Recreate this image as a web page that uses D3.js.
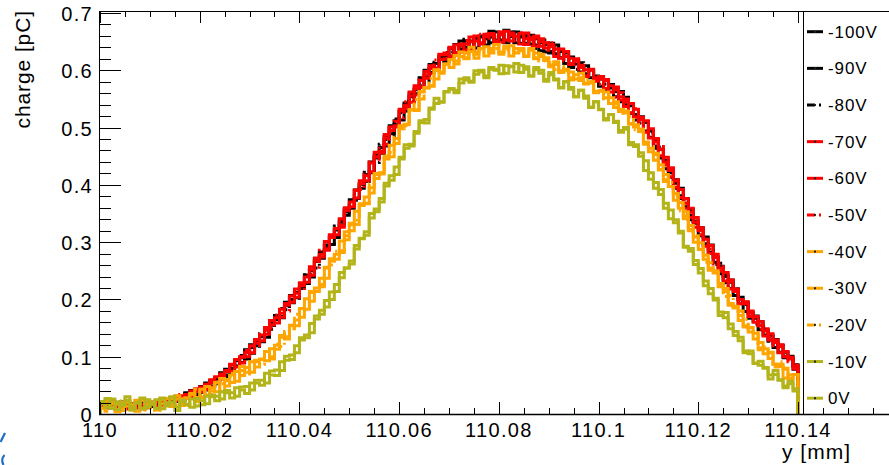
<!DOCTYPE html>
<html>
<head>
<meta charset="utf-8">
<script src="https://cdn.jsdelivr.net/npm/d3@7/dist/d3.min.js"></script>
<style>
  body { margin: 0; background: #fff; }
  svg { display: block; }
  text { font-family: "Liberation Sans", Arial, sans-serif; fill: #000; }
</style>
</head>
<body>
<svg id="chart" width="889" height="465"></svg>
<script>
// histogram binning, y [mm]
const binLow = 110, binWidth = 0.001;

// charge [pC] per bin, one array per bias voltage
const v100 = [.017,.011,.021,.009,.016,.018,.011,.015,.009,.017,.013,.021,.017,.027,.022,.028,.024,.036,.036,.035,
  .048,.045,.056,.053,.072,.068,.080,.093,.090,.112,.106,.127,.135,.134,.159,.165,.170,.195,.194,.212,
  .228,.228,.250,.272,.272,.295,.296,.321,.339,.347,.374,.376,.401,.406,.440,.447,.455,.485,.489,.512,
  .513,.543,.554,.559,.587,.587,.607,.601,.621,.625,.638,.629,.651,.640,.651,.639,.660,.655,.648,.667,
  .653,.670,.663,.648,.658,.662,.646,.655,.634,.645,.647,.629,.633,.612,.623,.611,.597,.608,.587,.590,
  .572,.582,.569,.554,.563,.540,.538,.513,.514,.509,.483,.479,.447,.443,.421,.394,.394,.362,.357,.333,
  .311,.309,.282,.274,.245,.242,.234,.207,.204,.179,.177,.171,.147,.147,.129,.130,.108,.108,.101,.078];
const v90 = [.013,.018,.011,.016,.021,.009,.015,.011,.019,.011,.019,.015,.024,.017,.025,.031,.025,.032,.041,.033,
  .038,.054,.049,.063,.065,.065,.086,.084,.098,.096,.121,.119,.126,.147,.155,.172,.168,.189,.207,.203,
  .219,.242,.239,.266,.283,.287,.310,.308,.335,.358,.359,.391,.394,.418,.421,.452,.465,.468,.503,.505,
  .528,.529,.560,.566,.571,.600,.596,.612,.625,.615,.625,.645,.637,.651,.634,.653,.658,.644,.668,.653,
  .666,.651,.659,.667,.647,.658,.661,.644,.648,.632,.630,.644,.622,.624,.605,.617,.608,.590,.601,.582,
  .585,.563,.575,.563,.545,.553,.525,.523,.519,.494,.494,.468,.462,.428,.428,.403,.376,.376,.347,.337,
  .323,.294,.295,.265,.258,.229,.230,.218,.193,.195,.167,.167,.161,.138,.137,.116,.120,.101,.098,.086];
const v80 = [.019,.013,.013,.018,.013,.014,.017,.009,.015,.018,.012,.018,.022,.019,.028,.022,.030,.037,.030,.042,
  .044,.042,.058,.061,.060,.078,.075,.091,.102,.101,.116,.115,.140,.144,.148,.170,.184,.182,.200,.202,
  .226,.243,.244,.255,.284,.292,.298,.328,.330,.353,.368,.373,.404,.422,.425,.439,.471,.479,.485,.515,
  .526,.546,.545,.571,.574,.581,.610,.614,.613,.631,.632,.627,.645,.654,.641,.657,.647,.663,.658,.649,
  .663,.648,.667,.654,.663,.647,.654,.638,.652,.653,.633,.637,.619,.630,.617,.602,.613,.594,.597,.576,
  .587,.576,.560,.569,.547,.549,.523,.526,.508,.510,.491,.464,.466,.435,.413,.409,.381,.373,.339,.336,
  .325,.297,.290,.261,.263,.240,.219,.218,.194,.191,.179,.157,.155,.150,.127,.123,.119,.098,.097,.084];
const v70 = [.016,.018,.014,.019,.012,.014,.018,.011,.017,.013,.021,.014,.020,.025,.021,.030,.029,.028,.040,.040,
  .039,.052,.060,.056,.070,.074,.074,.095,.099,.100,.119,.124,.128,.151,.156,.159,.183,.190,.195,.218,
  .224,.230,.257,.267,.274,.301,.308,.313,.341,.355,.362,.391,.402,.407,.438,.449,.456,.488,.495,.503,
  .532,.539,.544,.573,.582,.586,.608,.603,.628,.627,.624,.644,.643,.635,.658,.651,.646,.663,.661,.647,
  .662,.668,.651,.660,.664,.645,.657,.660,.642,.648,.641,.624,.637,.624,.610,.620,.609,.590,.600,.587,
  .589,.568,.573,.571,.548,.550,.526,.532,.514,.492,.498,.475,.451,.448,.425,.396,.392,.368,.343,.343,
  .320,.293,.294,.273,.250,.247,.218,.218,.200,.196,.170,.170,.154,.136,.140,.125,.118,.100,.099,.079];
const v60 = [.014,.017,.021,.011,.019,.009,.014,.017,.012,.019,.018,.022,.016,.022,.029,.023,.032,.034,.030,.044,
  .047,.043,.055,.065,.061,.076,.087,.082,.100,.107,.107,.130,.138,.139,.163,.168,.169,.193,.206,.204,
  .229,.239,.242,.272,.279,.286,.313,.324,.326,.360,.370,.377,.407,.416,.423,.457,.459,.482,.501,.501,
  .529,.534,.562,.568,.571,.598,.603,.604,.627,.630,.639,.631,.646,.646,.637,.660,.648,.659,.664,.651,
  .667,.653,.665,.659,.646,.665,.653,.642,.655,.639,.645,.637,.621,.633,.612,.616,.605,.589,.602,.581,
  .585,.584,.562,.566,.554,.537,.542,.519,.518,.512,.482,.481,.462,.435,.430,.407,.378,.376,.352,.326,
  .325,.305,.280,.279,.255,.232,.234,.214,.192,.193,.180,.160,.161,.145,.129,.129,.107,.109,.096,.083];
const v50 = [.018,.012,.017,.017,.014,.017,.010,.014,.018,.012,.017,.020,.015,.026,.025,.023,.034,.028,.038,.039,
  .046,.049,.047,.064,.067,.067,.085,.088,.089,.111,.114,.116,.139,.146,.150,.173,.176,.180,.205,.211,
  .216,.243,.252,.256,.286,.288,.309,.326,.329,.356,.363,.390,.392,.419,.440,.442,.469,.471,.502,.511,
  .517,.545,.555,.557,.588,.592,.594,.618,.619,.620,.640,.638,.632,.652,.650,.643,.663,.651,.662,.659,
  .649,.667,.661,.651,.666,.655,.642,.656,.650,.635,.648,.630,.636,.616,.621,.619,.596,.601,.599,.582,
  .575,.582,.571,.553,.561,.545,.527,.533,.508,.505,.490,.466,.467,.440,.414,.409,.387,.359,.359,.335,
  .313,.308,.288,.262,.262,.236,.231,.215,.193,.194,.176,.169,.148,.149,.134,.116,.121,.105,.091,.085];
const v40 = [.010,.018,.018,.004,.020,.014,.007,.023,.010,.018,.021,.009,.018,.027,.015,.026,.015,.028,.034,.029,
  .043,.033,.046,.039,.062,.058,.055,.074,.067,.081,.073,.094,.096,.093,.114,.113,.134,.131,.155,.164,
  .184,.183,.214,.214,.237,.237,.271,.279,.285,.318,.320,.354,.364,.367,.395,.418,.421,.450,.449,.481,
  .503,.506,.531,.531,.562,.569,.573,.601,.595,.611,.605,.626,.624,.620,.640,.628,.638,.625,.638,.645,
  .632,.642,.625,.638,.634,.624,.638,.620,.628,.617,.606,.615,.599,.602,.583,.592,.595,.576,.580,.561,
  .564,.562,.542,.545,.528,.529,.506,.505,.497,.475,.464,.443,.435,.409,.397,.385,.359,.346,.320,.309,
  .287,.277,.255,.247,.225,.214,.193,.188,.172,.154,.151,.131,.125,.105,.108,.087,.083,.080,.062,.069];
const v30 = [.010,.023,.012,.017,.006,.020,.016,.005,.024,.012,.020,.007,.025,.019,.013,.032,.019,.028,.036,.022,
  .029,.048,.040,.054,.039,.060,.068,.057,.083,.073,.091,.082,.095,.109,.096,.120,.137,.135,.154,.154,
  .169,.201,.197,.220,.222,.255,.267,.270,.302,.304,.330,.331,.367,.379,.386,.420,.419,.445,.469,.472,
  .501,.505,.531,.530,.563,.570,.572,.600,.597,.611,.619,.611,.632,.622,.633,.621,.638,.641,.630,.645,
  .628,.639,.643,.630,.638,.625,.635,.622,.624,.622,.609,.610,.596,.599,.597,.585,.587,.578,.578,.563,
  .564,.552,.552,.535,.532,.526,.507,.501,.497,.472,.458,.453,.427,.418,.397,.373,.369,.341,.329,.300,
  .299,.270,.251,.246,.228,.219,.190,.186,.180,.152,.143,.141,.112,.114,.107,.087,.087,.063,.068,.069];
const v20 = [.018,.005,.021,.023,.009,.021,.008,.024,.016,.007,.020,.006,.026,.015,.027,.015,.026,.015,.035,.043,
  .030,.043,.034,.055,.053,.049,.071,.063,.076,.067,.090,.091,.087,.108,.100,.122,.118,.144,.149,.174,
  .181,.181,.212,.214,.226,.256,.260,.284,.282,.311,.333,.338,.364,.368,.402,.411,.421,.451,.457,.483,
  .498,.503,.528,.549,.550,.569,.586,.585,.602,.610,.616,.616,.618,.630,.626,.632,.636,.630,.635,.638,
  .631,.636,.637,.631,.637,.627,.629,.630,.616,.620,.613,.601,.607,.599,.587,.595,.582,.584,.581,.565,
  .565,.547,.555,.541,.525,.526,.519,.496,.493,.471,.467,.455,.426,.406,.404,.381,.355,.353,.322,.311,
  .293,.265,.264,.250,.222,.205,.207,.185,.163,.165,.149,.142,.115,.117,.097,.082,.091,.078,.062,.067];
const v10 = [.022,.012,.026,.008,.018,.030,.011,.020,.009,.025,.016,.010,.028,.014,.021,.006,.024,.017,.012,.027,
  .023,.018,.033,.031,.026,.041,.037,.031,.047,.048,.042,.059,.059,.054,.075,.077,.076,.101,.103,.107,
  .133,.138,.142,.171,.181,.187,.213,.214,.247,.255,.262,.294,.306,.312,.350,.358,.370,.403,.416,.418,
  .448,.470,.468,.493,.512,.508,.534,.551,.545,.563,.567,.561,.585,.583,.579,.599,.597,.587,.605,.600,
  .609,.595,.607,.612,.596,.606,.590,.605,.595,.581,.596,.583,.570,.580,.570,.554,.565,.551,.536,.545,
  .531,.513,.523,.511,.495,.497,.470,.470,.450,.442,.410,.404,.383,.359,.356,.334,.319,.293,.284,.261,
  .246,.232,.210,.202,.178,.168,.157,.137,.128,.110,.105,.089,.085,.081,.068,.069,.059,.049,.053,.044];
const v0 = [.018,.027,.010,.021,.015,.024,.007,.019,.028,.013,.020,.025,.009,.019,.030,.012,.022,.016,.026,.014,
  .016,.031,.030,.023,.039,.037,.028,.046,.042,.036,.054,.054,.050,.071,.068,.067,.091,.094,.095,.119,
  .129,.133,.158,.166,.174,.198,.200,.226,.238,.255,.267,.288,.307,.318,.342,.353,.376,.398,.408,.431,
  .445,.464,.471,.490,.509,.514,.532,.542,.544,.562,.568,.565,.578,.587,.581,.593,.600,.590,.602,.602,
  .594,.608,.606,.597,.609,.602,.590,.601,.600,.584,.592,.585,.569,.580,.567,.554,.565,.555,.535,.545,
  .532,.516,.523,.509,.492,.500,.474,.467,.456,.425,.421,.394,.392,.368,.341,.339,.316,.291,.289,.268,
  .254,.224,.219,.199,.172,.177,.149,.144,.134,.107,.110,.088,.092,.080,.061,.076,.060,.046,.057,.040];

const seriesValues = [v100, v90, v80, v70, v60, v50, v40, v30, v20, v10, v0];
const seriesLabels = ['-100V', '-90V', '-80V', '-70V', '-60V', '-50V', '-40V', '-30V', '-20V', '-10V', '0V'];
const seriesColors = ['#000000', '#000000', '#000000', '#ff0000', '#ff0000', '#ff0000',
  '#ffa500', '#ffa500', '#ffa500', '#b3b31a', '#b3b31a'];
const seriesDash = [null, null, '8,4,2,4', null, null, '8,4,2,4', null, null, '8,4,2,4', null, null];

const xTicks = [110, 110.02, 110.04, 110.06, 110.08, 110.1, 110.12, 110.14];
const yTicks = [0, 0.1, 0.2, 0.3, 0.4, 0.5, 0.6, 0.7];

const svg = d3.select('#chart');
const padL = 100, padR = 889, padT = 11, padB = 414;

const x = d3.scaleLinear().domain([110, 110.14]).range([100, 798]);
const y = d3.scaleLinear().domain([0, 0.7]).range([414, 13]);

svg.append('defs').append('clipPath').attr('id', 'plot')
  .append('rect').attr('x', padL).attr('y', padT).attr('width', 703).attr('height', padB - padT);

// step outline like ROOT's HIST option, dropping to zero at both ends
const step = d3.line().x(d => x(d[0])).y(d => y(d[1])).curve(d3.curveStepAfter);

const g = svg.append('g').attr('clip-path', 'url(#plot)');
seriesValues.forEach((vals, k) => {
  const pts = [[binLow, 0]];
  vals.forEach((v, i) => pts.push([binLow + i * binWidth, v]));
  const end = binLow + vals.length * binWidth;
  pts.push([end, vals[vals.length - 1]]);
  pts.push([end, 0]);
  g.append('path')
    .attr('d', step(pts))
    .attr('fill', 'none')
    .attr('stroke', seriesColors[k])
    .attr('stroke-width', 3)
    .attr('stroke-dasharray', seriesDash[k]);
});

// frame
const axisColor = '#000';
svg.append('line').attr('x1', padL - 0.5).attr('x2', padL - 0.5).attr('y1', padT).attr('y2', padB + 1).attr('stroke', axisColor);
svg.append('line').attr('x1', padL - 1).attr('x2', padR).attr('y1', padB + 0.5).attr('y2', padB + 0.5).attr('stroke', axisColor).attr('stroke-width', 1.5);
svg.append('line').attr('x1', padL - 1).attr('x2', padR).attr('y1', padT + 0.5).attr('y2', padT + 0.5).attr('stroke', axisColor);

// x ticks, bottom and top
const xMinor = d3.range(0, 32).map(i => 110 + i * 0.005).filter(v => x(v) <= padR);
xMinor.forEach(v => {
  const major = Math.abs(Math.round(v / 0.02) * 0.02 - v) < 1e-9;
  const len = major ? 12 : 6;
  const px = Math.round(x(v)) + 0.5;
  svg.append('line').attr('x1', px).attr('x2', px).attr('y1', padB).attr('y2', padB - len).attr('stroke', axisColor);
  if (px < 803) svg.append('line').attr('x1', px).attr('x2', px).attr('y1', padT).attr('y2', padT + len).attr('stroke', axisColor);
});
svg.append('g').selectAll('text').data(xTicks).join('text')
  .attr('x', d => x(d))
  .attr('y', 437)
  .attr('text-anchor', 'middle')
  .attr('font-size', 20)
  .attr('letter-spacing', 1.3)
  .text(d => String(+d.toFixed(2)));

// y ticks
d3.range(0, 36).map(i => i * 0.02).forEach((v, i) => {
  const len = i % 5 === 0 ? 21 : 11;
  const py = Math.round(y(v)) + 0.5;
  svg.append('line').attr('x1', padL).attr('x2', padL + len).attr('y1', py).attr('y2', py).attr('stroke', axisColor);
});
svg.append('g').selectAll('text').data(yTicks).join('text')
  .attr('x', 93)
  .attr('y', d => y(d) + 8)
  .attr('text-anchor', 'end')
  .attr('font-size', 20)
  .attr('letter-spacing', 1.3)
  .text(d => String(+d.toFixed(1)));

// axis titles
svg.append('text')
  .attr('transform', 'translate(30,10) rotate(-90)')
  .attr('text-anchor', 'end')
  .attr('font-size', 21)
  .attr('letter-spacing', 0.9)
  .text('charge [pC]');
svg.append('text')
  .attr('x', 851).attr('y', 459)
  .attr('text-anchor', 'end')
  .attr('font-size', 21)
  .attr('letter-spacing', 1)
  .text('y [mm]');

// legend
const leg = svg.append('g');
leg.append('rect').attr('x', 803.5).attr('y', padT + 0.5).attr('width', 100).attr('height', padB - padT)
  .attr('fill', 'none').attr('stroke', axisColor);
seriesLabels.forEach((lab, k) => {
  const cy = 31.7 + k * 36.65;
  leg.append('line').attr('x1', 807).attr('x2', 823).attr('y1', cy).attr('y2', cy)
    .attr('stroke', seriesColors[k]).attr('stroke-width', 3).attr('stroke-dasharray', seriesDash[k]);
  leg.append('rect').attr('x', 814).attr('y', cy - 1).attr('width', 2).attr('height', 2).attr('fill', '#222');
  leg.append('text').attr('x', 828).attr('y', cy + 6).attr('font-size', 17).attr('letter-spacing', 0.9).text(lab);
});

// bits of a logo cut off at the lower left corner
svg.append('path').attr('d', 'M0.5,442 L5,433').attr('stroke', '#1f6fc5').attr('stroke-width', 2.2).attr('fill', 'none');
svg.append('path').attr('d', 'M4.5,455 Q0.5,459 3.5,465').attr('stroke', '#1f6fc5').attr('stroke-width', 2.2).attr('fill', 'none');
</script>
</body>
</html>
